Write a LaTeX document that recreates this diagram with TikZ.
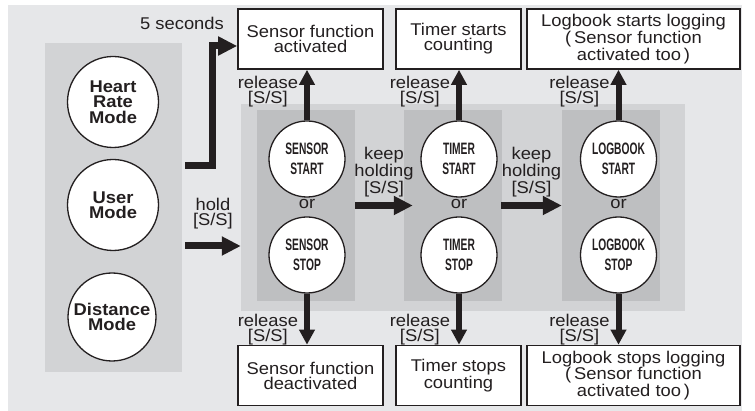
\documentclass[tikz,border=0pt]{standalone}
\usepackage{fontspec}
\usepackage{xcolor}
\usepackage{tikz}
\usetikzlibrary{arrows.meta}

\newfontfamily\wideSans[FakeStretch=1.08]{Liberation Sans}
\newfontfamily\narrowSans[FakeStretch=0.62]{Liberation Sans}

\definecolor{ink}{HTML}{231F20}
\definecolor{backGray}{HTML}{E6E7E9}
\definecolor{panelGray}{HTML}{D2D3D5}
\definecolor{innerGray}{HTML}{BEBFC1}

\tikzset{
  txt/.style={font=\wideSans\fontsize{17}{15}\selectfont, text=ink, align=center, inner sep=1pt},
  resultbox/.style={txt, draw=ink, line width=1.6pt, fill=white, minimum height=60pt},
  modecircle/.style={circle, draw=ink, line width=1.3pt, fill=white, minimum size=91pt, inner sep=0pt,
    font=\wideSans\bfseries\fontsize{17}{15.5}\selectfont, text=ink, align=center},
  statecircle/.style={circle, draw=ink, line width=1.3pt, fill=white, minimum size=76pt, inner sep=0pt,
    font=\narrowSans\bfseries\fontsize{16.5}{19.5}\selectfont, text=ink, align=center},
  panel/.style={fill=panelGray, inner sep=0pt},
  innerpanel/.style={fill=innerGray, inner sep=0pt, minimum width=98pt, minimum height=191pt},
  bigarrow/.style={draw=ink, line width=7pt, line join=miter,
    -{Triangle[length=19pt,width=18pt]}},
  relarrow/.style={draw=ink, line width=6pt,
    -{Triangle[length=15pt,width=15pt]}}
}

\begin{document}
\begin{tikzpicture}[x=1pt,y=-1pt]
  \useasboundingbox (0,0) rectangle (755,411);
  \fill[backGray] (8,5) rectangle (742,411);

  % panels
  \node[panel, minimum width=137pt, minimum height=329pt] (modePanel) at (113.5,207.5) {};
  \node[panel, minimum width=444pt, minimum height=207pt] (holdPanel) at (463,207.5) {};
  \node[innerpanel] (sensorPanel) at (306,205.5) {};
  \node[innerpanel] (timerPanel) at (453,205.5) {};
  \node[innerpanel] (logPanel) at (611,205.5) {};

  % modes
  \node[modecircle] (heart) at (113,102) {Heart\\Rate\\Mode};
  \node[modecircle] (user) at (113,205) {User\\Mode};
  \node[modecircle, minimum size=88pt] (dist) at (112,317) {Distance\\Mode};

  % states
  \node[statecircle] (sensorStart) at (307,159) {SENSOR\\START};
  \node[statecircle] (sensorStop) at (307,255) {SENSOR\\STOP};
  \node[statecircle] (timerStart) at (459,159) {TIMER\\START};
  \node[statecircle] (timerStop) at (459,255) {TIMER\\STOP};
  \node[statecircle] (logStart) at (618.5,159) {LOGBOOK\\START};
  \node[statecircle] (logStop) at (618.5,255) {LOGBOOK\\STOP};
  \node[txt] (sensorOr) at (307,204) {or};
  \node[txt] (timerOr) at (459,204) {or};
  \node[txt] (logOr) at (618.5,204) {or};

  % results
  \node[resultbox, minimum width=145pt] (sensorOn) at (310.5,39) {Sensor function\\activated};
  \node[resultbox, minimum width=125pt] (timerOn) at (458.5,39) {Timer starts\\counting};
  \node[resultbox, minimum width=213pt] (logOn) at (633.5,39) {Logbook starts logging\\(\,Sensor function\\activated too\,)};
  \node[resultbox, minimum width=145pt] (sensorOff) at (310.5,375.5) {Sensor function\\deactivated};
  \node[resultbox, minimum width=125pt] (timerOff) at (458.5,375.5) {Timer stops\\counting};
  \node[resultbox, minimum width=213pt] (logOff) at (633.5,375.5) {Logbook stops logging\\(\,Sensor function\\activated too\,)};

  % 5 seconds
  \coordinate (fiveStart) at (185,166);
  \coordinate (fiveTurn) at (212,46);
  \draw[bigarrow] (fiveStart) -| (fiveTurn) -- (fiveTurn -| sensorOn.west);
  \node[txt] (fiveLabel) at (182,23) {5 seconds};

  % hold
  \coordinate (holdStart) at (185,246);
  \draw[bigarrow] (holdStart) -- (holdStart -| holdPanel.west)
    node[midway, above=12pt, txt] {hold\\{[S/S]}};

  % keep holding
  \draw[bigarrow] (sensorPanel.east) -- ([xshift=9pt]timerPanel.west)
    node[midway, above=4pt, txt] {keep\\holding\\{[S/S]}};
  \draw[bigarrow] ([xshift=-1pt]timerPanel.east) -- (logPanel.west)
    node[midway, above=4pt, txt] {keep\\holding\\{[S/S]}};

  % release
  \foreach \st/\res in {sensorStart/sensorOn, timerStart/timerOn, logStart/logOn}
    \draw[relarrow] (\st) -- (\st |- \res.south) node[pos=0.56, left=5pt, txt] {release\\{[S/S]}};
  \foreach \st/\res in {sensorStop/sensorOff, timerStop/timerOff, logStop/logOff}
    \draw[relarrow] (\st) -- (\st |- \res.north) node[pos=0.7, left=5pt, txt] {release\\{[S/S]}};
\end{tikzpicture}
\end{document}
